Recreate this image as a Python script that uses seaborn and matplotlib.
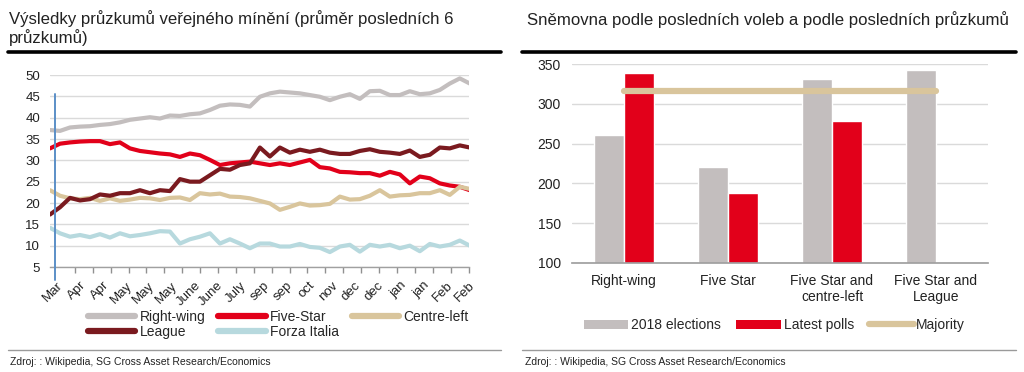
import numpy as np
import pandas as pd
import matplotlib
matplotlib.use("Agg")
import matplotlib.pyplot as plt
from matplotlib.lines import Line2D
from matplotlib.patches import Patch
import seaborn as sns

# ---------------- data: left chart (poll averages) ----------------
month_labels = ["Mar", "Apr", "Apr", "May", "May", "May", "June", "June", "July",
                "sep", "sep", "oct", "nov", "dec", "dec", "jan", "jan", "Feb", "Feb"]

right_wing = [37.1, 36.9, 37.7, 37.9, 38.0, 38.3, 38.5, 38.9, 39.5, 39.8, 40.1, 39.8, 40.5,
              40.4, 40.8, 41.0, 41.8, 42.8, 43.1, 43.0, 42.6, 44.9, 45.7, 46.1, 45.9, 45.7,
              45.3, 44.9, 44.1, 44.9, 45.5, 44.4, 46.2, 46.3, 45.3, 45.3, 46.2, 45.5, 45.7,
              46.5, 48.0, 49.2, 48.0]
five_star = [32.8, 33.9, 34.2, 34.4, 34.5, 34.5, 33.8, 34.2, 32.8, 32.2, 31.9, 31.6, 31.4,
             30.8, 31.6, 31.2, 30.1, 28.9, 29.3, 29.5, 29.7, 29.3, 28.9, 29.3, 28.9, 29.5,
             30.1, 28.4, 28.1, 27.3, 27.2, 27.0, 27.0, 26.4, 27.3, 26.7, 24.6, 26.2, 25.8,
             24.6, 24.1, 23.8, 23.0]
centre_left = [23.0, 21.7, 21.1, 20.9, 21.2, 20.5, 21.1, 20.5, 20.8, 21.2, 21.1, 20.7, 21.2,
               21.3, 20.7, 22.3, 22.0, 22.2, 21.5, 21.4, 21.1, 20.5, 19.9, 18.4, 19.1, 19.9,
               19.4, 19.5, 19.8, 21.5, 20.8, 20.9, 21.7, 23.0, 21.5, 21.8, 21.9, 22.3, 22.3,
               23.0, 21.9, 23.8, 23.3]
league = [17.3, 19.0, 21.2, 20.6, 20.9, 22.0, 21.7, 22.3, 22.3, 23.0, 22.3, 23.0, 22.8,
          25.6, 25.0, 25.0, 26.5, 28.0, 27.8, 28.9, 29.3, 33.0, 30.9, 33.0, 31.8, 32.5,
          32.0, 32.5, 31.8, 31.5, 31.5, 32.2, 32.6, 32.0, 31.8, 31.5, 32.3, 30.8, 31.3,
          33.0, 32.8, 33.5, 33.0]
forza_italia = [14.2, 12.9, 12.1, 12.5, 12.0, 12.7, 11.9, 12.9, 12.2, 12.5, 12.9, 13.4, 13.3,
                10.5, 11.5, 12.1, 12.9, 10.5, 11.5, 10.5, 9.4, 10.5, 10.5, 9.8, 9.8, 10.4,
                9.7, 9.5, 8.5, 9.8, 10.2, 8.6, 10.2, 9.8, 10.2, 9.4, 10.0, 8.7, 10.4,
                9.8, 10.2, 11.2, 10.0]

series_names = ["Right-wing", "Five-Star", "Centre-left", "League", "Forza Italia"]
series_values = [right_wing, five_star, centre_left, league, forza_italia]

# ---------------- data: right chart (seats) ----------------
coalitions = ["Right-wing", "Five Star", "Five Star and\ncentre-left", "Five Star and\nLeague"]
seats_2018 = [261, 221, 332, 343]
seats_polls = [339, 188, 278, np.nan]
majority = 316

# ---------------- styling ----------------
sns.set_theme(style="white")
plt.rcParams["font.family"] = ["Liberation Sans", "DejaVu Sans"]

colors = {
    "Right-wing": "#C3BEBE",
    "Five-Star": "#E2001A",
    "Centre-left": "#D9C59C",
    "League": "#7A1A1F",
    "Forza Italia": "#B7D9DE",
}
GRID = "#DADADA"
TXT = "#222222"

fig = plt.figure(figsize=(10.24, 3.72), dpi=100)

# ---------------- left chart ----------------
rows = []
for name, vals in zip(series_names, series_values):
    for i, v in enumerate(vals):
        rows.append({"idx": i, "value": v, "series": name})
df_lines = pd.DataFrame(rows)

axL = fig.add_axes([50 / 1024, 1 - 267 / 372, 419 / 1024, 192 / 372])
sns.lineplot(data=df_lines, x="idx", y="value", hue="series", palette=colors,
             hue_order=series_names, linewidth=3.0, ax=axL, legend=False, sort=False)
axL.set_xlim(0, 41.9)
axL.set_ylim(5, 50)
axL.set_yticks(np.arange(5, 51, 5))
axL.yaxis.grid(True, color=GRID, linewidth=1)
axL.xaxis.grid(False)
for s in ["top", "right", "left"]:
    axL.spines[s].set_visible(False)
axL.spines["bottom"].set_color("#A0A0A0")
axL.spines["bottom"].set_linewidth(1)
axL.set_xlabel("")
axL.set_ylabel("")
lab_pos = [(7 + 22.9 * k) / 10 for k in range(len(month_labels))]
axL.set_xticks(lab_pos)
axL.set_xticklabels(month_labels, rotation=45, ha="right", rotation_mode="anchor",
                    fontsize=9.5, color=TXT)
axL.tick_params(axis="x", which="major", length=0, pad=9)
axL.set_xticks([(7 + 17.9 * t) / 10 for t in range(24)], minor=True)
axL.tick_params(axis="x", which="minor", length=4, color="#909090", width=1, bottom=True)
axL.tick_params(axis="y", length=0, labelsize=9.5, labelcolor=TXT, pad=7)
axL.axvline(0.5, ymin=-0.07, ymax=0.9, color="#5B8FC7", linewidth=1.4, clip_on=False, zorder=5)

handles_L = [Line2D([], [], color=colors[k], linewidth=4.5, solid_capstyle="round")
             for k in ["Right-wing", "League", "Five-Star", "Forza Italia", "Centre-left"]]
labels_L = ["Right-wing", "League", "Five-Star", "Forza Italia", "Centre-left"]
fig.legend(handles_L, labels_L, ncol=3, frameon=False, fontsize=10,
           loc="upper left", bbox_to_anchor=(88 / 1024, 1 - 310 / 372),
           handlelength=3.4, handletextpad=0.3, columnspacing=0.95,
           labelspacing=0.05, borderaxespad=0, borderpad=0)

# ---------------- right chart ----------------
df_bars = pd.DataFrame({
    "coalition": coalitions * 2,
    "seats": seats_2018 + seats_polls,
    "kind": ["2018 elections"] * 4 + ["Latest polls"] * 4,
})
axR = fig.add_axes([572 / 1024, 1 - 262.7 / 372, 416 / 1024, 198.4 / 372])
sns.barplot(data=df_bars, x="coalition", y="seats", hue="kind",
            palette={"2018 elections": "#C3BEBE", "Latest polls": "#E2001A"},
            width=0.57, ax=axR, legend=False, saturation=1)
axR.plot([0, 3], [majority, majority], color="#D9C59C", linewidth=4.5,
         solid_capstyle="round", zorder=4)
axR.set_xlim(-0.5, 3.5)
axR.set_ylim(100, 350)
axR.set_yticks(np.arange(100, 351, 50))
axR.yaxis.grid(True, color=GRID, linewidth=1)
axR.set_axisbelow(True)
for s in ["top", "right", "left"]:
    axR.spines[s].set_visible(False)
axR.spines["bottom"].set_color("#A0A0A0")
axR.set_xlabel("")
axR.set_ylabel("")
axR.tick_params(axis="x", length=0, labelsize=10, labelcolor=TXT, pad=8)
axR.tick_params(axis="y", length=0, labelsize=10, labelcolor=TXT, pad=8)

handles_R = [Patch(facecolor="#C3BEBE", edgecolor="none"),
             Patch(facecolor="#E2001A", edgecolor="none"),
             Line2D([], [], color="#D9C59C", linewidth=4.5, solid_capstyle="round")]
fig.legend(handles_R, ["2018 elections", "Latest polls", "Majority"], ncol=3,
           frameon=False, fontsize=10, loc="upper left",
           bbox_to_anchor=(584 / 1024, 1 - 318 / 372),
           handlelength=3.2, handleheight=0.6, handletextpad=0.2, columnspacing=1.1,
           borderaxespad=0, borderpad=0)

# ---------------- titles, rules, sources ----------------
fig.text(9 / 1024, 1 - 10 / 372, "Výsledky průzkumů veřejného mínění (průměr posledních 6\nprůzkumů)",
         ha="left", va="top", fontsize=12.1, color=TXT, linespacing=1.15)
fig.text(527 / 1024, 1 - 11 / 372, "Sněmovna podle posledních voleb a podle posledních průzkumů",
         ha="left", va="top", fontsize=12.1, color=TXT)

for x0, x1 in [(8, 501), (522, 1016)]:
    fig.add_artist(Line2D([x0 / 1024, x1 / 1024], [1 - 52 / 372] * 2, color="black",
                          linewidth=2.6, transform=fig.transFigure))
    fig.add_artist(Line2D([x0 / 1024, x1 / 1024], [1 - 350 / 372] * 2, color="#9A9A9A",
                          linewidth=1, transform=fig.transFigure))

for x0 in [10, 525]:
    fig.text(x0 / 1024, 1 - 362 / 372, "Zdroj: : Wikipedia, SG Cross Asset Research/Economics",
             ha="left", va="center", fontsize=7.5, color=TXT)

fig.savefig("out.png", dpi=100, facecolor="white")
